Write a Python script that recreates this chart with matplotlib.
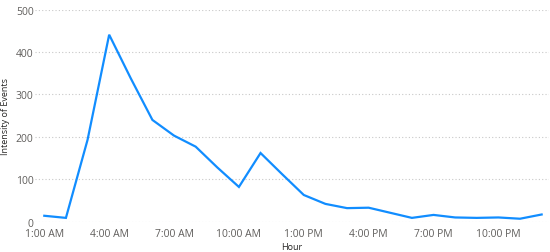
import matplotlib.pyplot as plt

# Hourly intensity of events
hours = ["1:00 AM", "2:00 AM", "3:00 AM", "4:00 AM", "5:00 AM", "6:00 AM",
         "7:00 AM", "8:00 AM", "9:00 AM", "10:00 AM", "11:00 AM", "12:00 PM",
         "1:00 PM", "2:00 PM", "3:00 PM", "4:00 PM", "5:00 PM", "6:00 PM",
         "7:00 PM", "8:00 PM", "9:00 PM", "10:00 PM", "11:00 PM", "12:00 AM"]
intensity = [14, 9, 193, 441, 338, 240, 203, 177, 128, 82, 162, 112,
             63, 42, 32, 33, 21, 9, 16, 10, 9, 10, 7, 17]
y_ticks = [0, 100, 200, 300, 400, 500]

plt.rcParams['font.family'] = ['Open Sans', 'DejaVu Sans']

fig = plt.figure(figsize=(5.5, 2.53), dpi=100)
ax = fig.add_axes([35 / 550, 30.3 / 253, 514 / 550, 212 / 253])

x = list(range(len(hours)))
ax.plot(x, intensity, color="#118DFF", linewidth=1.6, solid_joinstyle="miter")

ax.set_xlim(-0.43, 23.34)
ax.set_ylim(0, 500)
ax.set_yticks(y_ticks)
ax.set_xticks(x[::3])
ax.set_xticklabels(hours[::3])

# light dotted horizontal grid, no spines
ax.grid(axis="y", color="#C8C8C8", linestyle=(0, (1, 2)), linewidth=0.8)
ax.set_axisbelow(True)
for s in ax.spines.values():
    s.set_visible(False)
ax.tick_params(length=0, labelsize=7.5, labelcolor="#605E5C")
ax.tick_params(axis="x", pad=4.5)
ax.tick_params(axis="y", pad=1)

ax.set_xlabel("Hour", fontsize=6.5, color="#252423", labelpad=2)
ax.set_ylabel("Intensity of Events", fontsize=6.5, color="#252423", labelpad=4)

fig.savefig("out.png", dpi=100)
